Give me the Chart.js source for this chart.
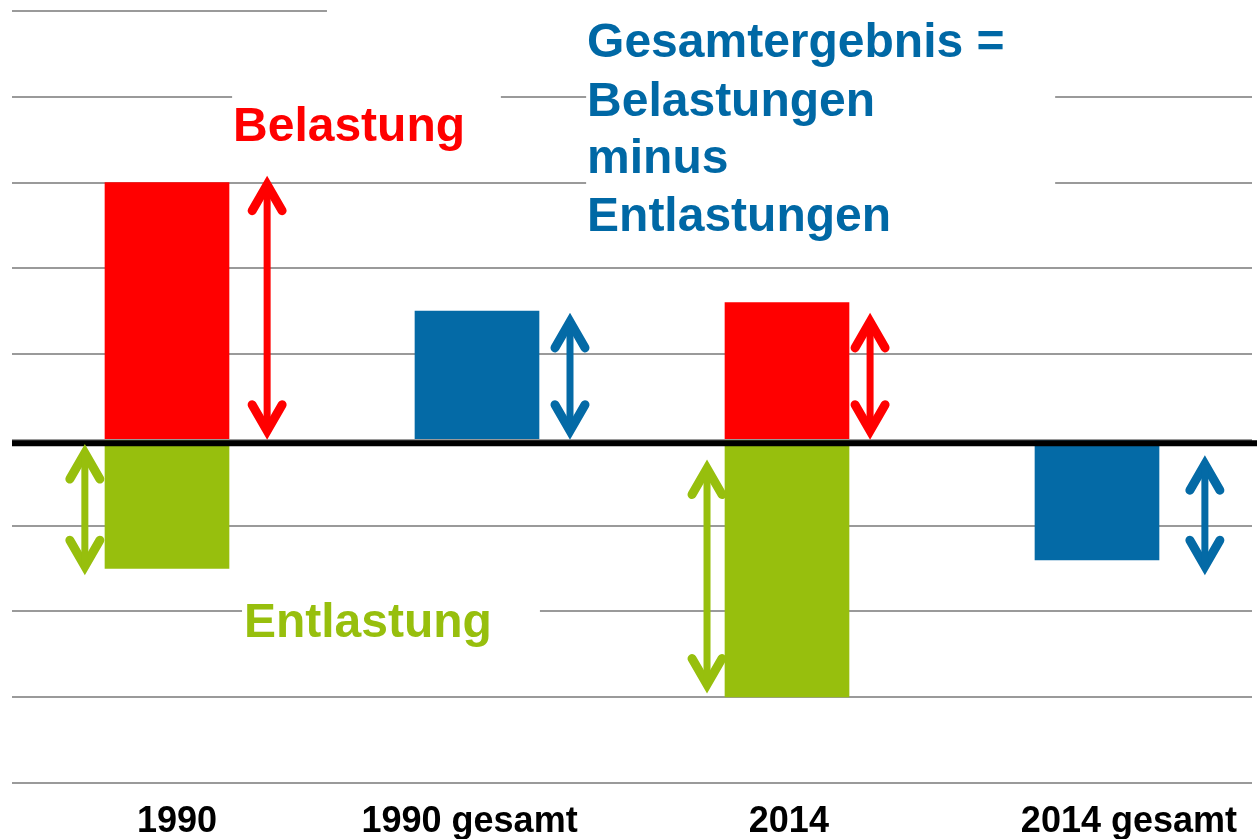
<!DOCTYPE html>
<html><head><meta charset="utf-8">
<script src="https://cdn.jsdelivr.net/npm/chart.js@4.4.1/dist/chart.umd.min.js"></script>
<style>html,body{margin:0;padding:0;background:#fff;overflow:hidden}</style>
</head><body>
<canvas id="c" width="1257" height="839"></canvas>
<script>
// ---- data ----
const categories = ['1990', '1990 gesamt', '2014', '2014 gesamt'];
const labelPositions = [0.032, 0.976, 2.006, 3.103];
const belastung = [3.0, null, 1.6, null];
const entlastung = [-1.5, null, -3.0, null];
const gesamt = [null, 1.5, null, -1.4];
const yMin = -4, yMax = 5;

// double arrows (x in category units, from/to in value units)
const arrowX    = [0.323, -0.265, 1.30, 2.268, 1.742, 3.348];
const arrowFrom = [0.0,   -0.05,  0.0,  0.0,   -0.23, -0.18];
const arrowTo   = [3.08,  -1.58,  1.48, 1.48,  -2.96, -1.58];
const arrowKind = ['red', 'green', 'blue', 'red', 'green', 'blue'];

// text notes
const noteText = ['Belastung', 'Entlastung', 'Gesamtergebnis =', 'Belastungen', 'minus', 'Entlastungen'];
const noteX    = [0.213, 0.248, 1.355, 1.355, 1.355, 1.355];
const noteY    = [3.48, -2.30, 4.46, 3.78, 3.11, 2.44];
const noteKind = ['red', 'green', 'blue', 'blue', 'blue', 'blue'];

// white label backgrounds hiding grid lines [x0, x1, y0, y1]
const maskX0 = [0.516, 0.21, 1.352, 0.242];
const maskX1 = [3.6, 1.077, 2.865, 1.203];
const maskY0 = [4.85, 3.3, 2.3, -2.5];
const maskY1 = [5.3, 4.3, 5.3, -1.7];

const COLORS = { red: '#FF0000', green: '#97BF0D', blue: '#046AA6' };
const TEXTCOLORS = { red: '#FF0000', green: '#97BF0D', blue: '#0068A5' };

const toXY = arr => arr.map((v, i) => ({ x: i, y: v }));

const maskPlugin = {
  id: 'masks',
  beforeDatasetsDraw(chart) {
    const { ctx, scales: { x, y } } = chart;
    ctx.save();
    ctx.fillStyle = '#ffffff';
    for (let i = 0; i < maskX0.length; i++) {
      const px0 = x.getPixelForValue(maskX0[i]), px1 = x.getPixelForValue(maskX1[i]);
      const py0 = y.getPixelForValue(maskY0[i]), py1 = y.getPixelForValue(maskY1[i]);
      ctx.fillRect(px0, Math.min(py0, py1), px1 - px0, Math.abs(py1 - py0));
    }
    ctx.restore();
  }
};

function drawHead(ctx, px, tipY, dir, color) {
  // dir = +1 : head points up (arms go down), -1 : head points down
  const dx = 15, dy = 26, lw = 9;
  const inset = (lw / 2) / Math.sin(Math.atan(dx / dy));
  const vy = tipY + dir * inset;
  ctx.beginPath();
  ctx.moveTo(px - dx, vy + dir * dy);
  ctx.lineTo(px, vy);
  ctx.lineTo(px + dx, vy + dir * dy);
  ctx.strokeStyle = color;
  ctx.lineWidth = lw;
  ctx.lineCap = 'round';
  ctx.lineJoin = 'miter';
  ctx.miterLimit = 10;
  ctx.stroke();
  return vy;
}

const overlayPlugin = {
  id: 'overlay',
  afterDatasetsDraw(chart) {
    const { ctx, chartArea, scales: { x, y } } = chart;
    ctx.save();
    // zero line
    const y0 = y.getPixelForValue(0);
    ctx.beginPath();
    ctx.moveTo(chartArea.left, y0 + 3.5);
    ctx.lineTo(chart.width, y0 + 3.5);
    ctx.strokeStyle = '#000';
    ctx.lineWidth = 6;
    ctx.stroke();

    // arrows
    for (let i = 0; i < arrowX.length; i++) {
      const px = x.getPixelForValue(arrowX[i]);
      const pa = y.getPixelForValue(Math.max(arrowFrom[i], arrowTo[i])); // top
      const pb = y.getPixelForValue(Math.min(arrowFrom[i], arrowTo[i])); // bottom
      const col = COLORS[arrowKind[i]];
      const vTop = drawHead(ctx, px, pa, 1, col);
      const vBot = drawHead(ctx, px, pb, -1, col);
      ctx.beginPath();
      ctx.moveTo(px, vTop);
      ctx.lineTo(px, vBot);
      ctx.lineWidth = 7;
      ctx.lineCap = 'butt';
      ctx.strokeStyle = col;
      ctx.stroke();
    }

    // notes
    ctx.font = 'bold 48px "Liberation Sans", Arial, sans-serif';
    ctx.textBaseline = 'alphabetic';
    ctx.textAlign = 'left';
    for (let i = 0; i < noteText.length; i++) {
      ctx.fillStyle = TEXTCOLORS[noteKind[i]];
      ctx.fillText(noteText[i], x.getPixelForValue(noteX[i]), y.getPixelForValue(noteY[i]));
    }
    ctx.restore();
  }
};

new Chart(document.getElementById('c'), {
  type: 'bar',
  data: {
    datasets: [
      { label: 'Belastung', data: toXY(belastung), backgroundColor: COLORS.red },
      { label: 'Entlastung', data: toXY(entlastung), backgroundColor: COLORS.green },
      { label: 'Gesamt', data: toXY(gesamt), backgroundColor: COLORS.blue }
    ]
  },
  options: {
    responsive: false,
    animation: false,
    devicePixelRatio: 1,
    layout: { padding: { left: 12, right: 5, top: 11, bottom: -15 } },
    datasets: { bar: { grouped: false, barThickness: 124, borderWidth: 0 } },
    plugins: { legend: { display: false }, tooltip: { enabled: false } },
    scales: {
      x: {
        type: 'linear',
        min: -0.5, max: 3.5,
        offset: false,
        grid: { display: false },
        border: { display: false },
        afterBuildTicks: axis => { axis.ticks = labelPositions.map(v => ({ value: v })); },
        ticks: {
          autoSkip: false, maxRotation: 0, minRotation: 0,
          padding: 10,
          color: '#000',
          font: { family: '"Liberation Sans", Arial, sans-serif', size: 36, weight: 'bold' },
          callback: (v, i) => categories[i]
        }
      },
      y: {
        min: yMin, max: yMax,
        ticks: { display: false, stepSize: 1 },
        border: { display: false },
        grid: { color: '#9a9a9a', lineWidth: 2, drawTicks: false }
      }
    }
  },
  plugins: [maskPlugin, overlayPlugin]
});
</script>
</body></html>
